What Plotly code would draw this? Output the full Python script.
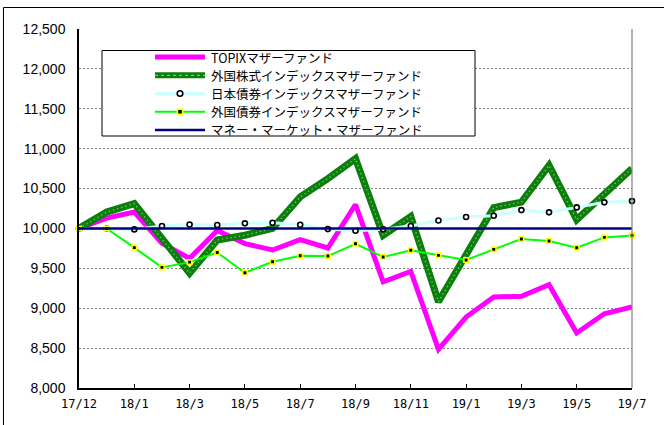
import plotly.graph_objects as go

# ---- data ----
x_index = list(range(21))
tick_positions = [0, 2, 4, 6, 8, 10, 12, 14, 16, 18, 20]
tick_labels = ["17/12", "18/1", "18/3", "18/5", "18/7", "18/9", "18/11",
               "19/1", "19/3", "19/5", "19/7"]

topix = [10000, 10130, 10205, 9815, 9625, 9975, 9810, 9730, 9860, 9755,
         10300, 9332, 9460, 8485, 8890, 9140, 9150, 9295, 8690, 8930, 9015]
foreign_stock = [10000, 10205, 10312, 9865, 9440, 9855, 9915, 10000, 10395, 10625,
                 10875, 9915, 10150, 9080, 9665, 10262, 10330, 10790, 10110, 10440, 10750]
japan_bond = [10000, 10000, 9988, 10030, 10050, 10044, 10064, 10072, 10046, 9992,
              9971, 9989, 10030, 10100, 10143, 10159, 10230, 10202, 10264, 10327, 10343]
foreign_bond = [10000, 10000, 9760, 9512, 9578, 9698, 9445, 9583, 9658, 9654,
                9808, 9642, 9726, 9663, 9604, 9738, 9867, 9842, 9758, 9888, 9913]
mmf = [10000] * 21

names = ["TOPIXマザーファンド", "外国株式インデックスマザーファンド",
         "日本債券インデックスマザーファンド", "外国債券インデックスマザーファンド",
         "マネー・マーケット・マザーファンド"]

W, H = 664, 425
L, R, T, B = 79, 632, 29, 388
pw, ph = R - L, B - T


def px(x):
    return (x - L) / pw


def py(y):
    return (B - y) / ph


C_TOPIX = "#FF00FF"
C_FSTOCK = "#0A800A"
C_FSTOCK_DOT = "rgba(215,235,215,0.6)"
C_JBOND = "#CCFFFF"
C_FBOND = "#00FF00"
C_MMF = "#000080"

fig = go.Figure()
fig.add_trace(go.Scatter(x=x_index, y=topix, name=names[0], mode="lines",
                         line=dict(color=C_TOPIX, width=5)))
fig.add_trace(go.Scatter(x=x_index, y=foreign_stock, name=names[1], mode="lines",
                         line=dict(color=C_FSTOCK, width=7)))
fig.add_trace(go.Scatter(x=x_index, y=foreign_stock, name=names[1] + " ", mode="lines",
                         hoverinfo="skip",
                         line=dict(color=C_FSTOCK_DOT, width=1.3, dash="1.3px,3px")))
fig.add_trace(go.Scatter(x=x_index, y=japan_bond, name=names[2], mode="lines+markers",
                         line=dict(color=C_JBOND, width=3),
                         marker=dict(symbol="circle", size=5, color="white",
                                     line=dict(color="black", width=1.6)),
                         cliponaxis=False))
fig.add_trace(go.Scatter(x=x_index, y=foreign_bond, name=names[3], mode="lines+markers",
                         line=dict(color=C_FBOND, width=2),
                         marker=dict(symbol="square", size=4.5, color="black",
                                     line=dict(color="#FFFF00", width=1.6)),
                         cliponaxis=False))
fig.add_trace(go.Scatter(x=x_index, y=mmf, name=names[4], mode="lines",
                         line=dict(color=C_MMF, width=2.5)))

# ---- legend box drawn as annotations / shapes ----
shapes = [
    dict(type="line", xref="paper", yref="paper", x0=1, x1=1, y0=0, y1=1,
         line=dict(color="#808080", width=1.2)),
    dict(type="rect", xref="paper", yref="paper", x0=px(102), x1=px(475),
         y0=py(136), y1=py(50.5), fillcolor="white",
         line=dict(color="black", width=1), layer="above"),
    dict(type="rect", xref="paper", yref="paper", x0=px(3.5), x1=px(700),
         y0=py(460), y1=py(7.5), fillcolor="rgba(0,0,0,0)",
         line=dict(color="black", width=1), layer="above"),
]
fs = 12.5
step = 18.2
ymid = 93.5
rows = [ymid + (k - 2) * step for k in range(5)]
sx0, sx1, tx = 155, 205, 210
styles = [
    [(C_TOPIX, 5, "solid")],
    [(C_FSTOCK, 6, "solid"), (C_FSTOCK_DOT, 1.3, "dot")],
    [(C_JBOND, 3, "solid")],
    [(C_FBOND, 2, "solid")],
    [(C_MMF, 2.5, "solid")],
]
annotations = []
for name, yy, st in zip(names, rows, styles):
    for col, wd, ds in st:
        shapes.append(dict(type="line", xref="paper", yref="paper",
                           x0=px(sx0), x1=px(sx1), y0=py(yy), y1=py(yy),
                           line=dict(color=col, width=wd, dash=ds), layer="above"))
    annotations.append(dict(xref="paper", yref="paper", x=px(tx), y=py(yy),
                            xanchor="left", yanchor="middle", showarrow=False,
                            text=name, borderpad=0,
                            font=dict(family="Noto Sans CJK JP", size=fs, color="black")))
cx = (sx0 + sx1) / 2
shapes.append(dict(type="circle", xref="paper", yref="paper",
                   x0=px(cx - 2.8), x1=px(cx + 2.8), y0=py(rows[2] + 2.8), y1=py(rows[2] - 2.8),
                   fillcolor="white", line=dict(color="black", width=1.6), layer="above"))
shapes.append(dict(type="rect", xref="paper", yref="paper",
                   x0=px(cx - 2.6), x1=px(cx + 2.6), y0=py(rows[3] + 2.6), y1=py(rows[3] - 2.6),
                   fillcolor="black", line=dict(color="#FFFF00", width=1.6), layer="above"))

fig.update_layout(
    width=W, height=H,
    margin=dict(l=L, r=W - R, t=T, b=H - B),
    paper_bgcolor="white", plot_bgcolor="white",
    showlegend=False,
    xaxis=dict(range=[0, 20], tickmode="array", tickvals=tick_positions,
               ticktext=tick_labels, showgrid=False, zeroline=False,
               showline=True, linecolor="black", linewidth=1.5,
               ticks="inside", ticklen=4, tickcolor="black",
               ticklabelstandoff=4,
               tickfont=dict(family="DejaVu Sans Mono", size=12, color="black")),
    yaxis=dict(range=[8000, 12500], dtick=500, tick0=8000, tickformat=",d",
               showgrid=True, gridcolor="#808080", griddash="2px,2px", gridwidth=1,
               zeroline=False, showline=True, linecolor="black", linewidth=1.5,
               ticks="", ticklabelstandoff=9,
               tickfont=dict(family="Liberation Sans", size=14, color="black")),
    shapes=shapes,
    annotations=annotations,
)

fig.write_html("out.html", config={"displayModeBar": False},
               post_script="document.body.style.margin='0';document.body.style.overflow='hidden';")
